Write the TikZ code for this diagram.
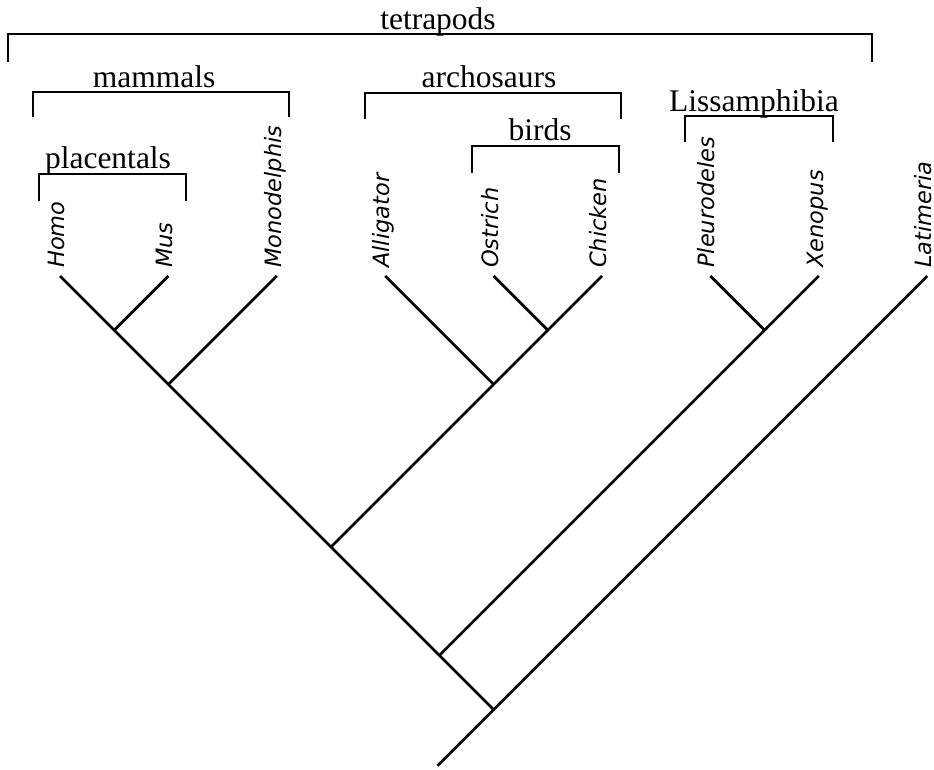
\documentclass[tikz,border=0pt]{standalone}
\usepackage{fontspec}
\setmainfont{Liberation Serif}
\newfontfamily\taxfont{DejaVu Sans}
\usetikzlibrary{positioning}

\tikzset{
  branch/.style={line width=2.7pt},
  clade/.style={line width=1.6pt},
  taxon/.style={rotate=90, anchor=base west, inner sep=0pt, font=\taxfont\itshape\fontsize{22.5}{22.5}\selectfont},
  group/.style={anchor=base, inner sep=0pt, font=\fontsize{31.5}{31.5}\selectfont}
}

\begin{document}
\begin{tikzpicture}[x=1pt, y=-1pt]
      \useasboundingbox (0,0) rectangle (934,769);
      \foreach \name [count=\i from 0] in {Homo,Mus,Monodelphis,Alligator,Ostrich,Chicken,Pleurodeles,Xenopus,Latimeria} {
        \coordinate (\name) at (60+108.4*\i,276);
        \node (l\name) at ([shift={(4.5,-8)}]\name) [taxon] {\name};
      }
      \coordinate (hm)   at (114.2,330.2);
      \coordinate (ob)   at (547.8,330.2);
      \coordinate (px)   at (764.6,330.2);
      \coordinate (mam)  at (168.4,384.4);
      \coordinate (arc)  at (493.6,384.4);
      \coordinate (amn)  at (331,547);
      \coordinate (tet)  at (439.4,655.4);
      \coordinate (root) at (493.6,709.6);
      \coordinate (base) at (437.6,765.6);
      \draw[branch] (Homo) to (hm) to (mam) to (amn) to (tet) to (root) to (base);
      \draw[branch] (Mus) to (hm)  (Monodelphis) to (mam);
      \draw[branch] (Alligator) to (arc)  (Ostrich) to (ob)  (Chicken) to (ob) to (arc) to (amn);
      \draw[branch] (Pleurodeles) to (px)  (Xenopus) to (px) to (tet);
      \draw[branch] (Latimeria) to (root);

      \draw[clade] (8,62) |- (872,34) -- (872,62);
      \node (tetrapods) at (438,29) [group] {tetrapods};
      \draw[clade] (33,117) |- (289,92) -- (289,117);
      \node (mammals) at (154,87) [group] {mammals};
      \draw[clade] (39,201) |- (186,174) -- (186,201);
      \node (placentals) at (108,168) [group] {placentals};
      \draw[clade] (365,119) |- (621,93) -- (621,119);
      \node (archosaurs) at (489,87) [group] {archosaurs};
      \draw[clade] (472,173) |- (619,146) -- (619,173);
      \node (birds) at (540,140) [group] {birds};
      \draw[clade] (685,142) |- (833,116) -- (833,142);
      \node (lissamphibia) at (754,111) [group] {Lissamphibia};
\end{tikzpicture}
\end{document}
